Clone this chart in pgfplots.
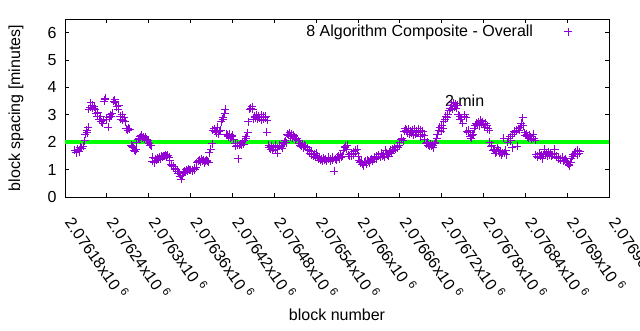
\documentclass[border=0pt]{standalone}
\usepackage{fontspec}
\setmainfont{Liberation Sans}
\usepackage{pgfplots}
\usepackage{pgfplotstable}
\pgfplotsset{compat=1.18}
\definecolor{gpviolet}{HTML}{9400D3}
\definecolor{gpgreen}{HTML}{00FF00}
% x = block number - 2076000
\pgfplotstableread{
x y
194 1.70
196 1.62
198 1.75
200 1.66
202 1.82
204 1.78
206 1.85
208 2.05
209 2.30
211 2.45
212 2.35
213 2.55
214 3.20
216 3.28
217 3.45
219 3.35
220 3.25
222 3.30
223 3.20
224 3.05
226 2.95
227 3.10
229 2.85
231 2.95
232 2.75
234 2.70
235 2.80
236 3.50
237 3.55
238 3.60
240 2.85
242 2.55
243 2.90
245 3.00
246 2.95
248 3.05
250 3.50
251 3.55
252 3.45
254 3.30
256 3.20
257 3.35
259 2.95
260 2.85
262 3.00
263 2.80
265 2.90
266 2.75
268 2.50
270 2.45
271 2.52
273 2.48
275 1.90
276 1.85
278 1.80
279 1.72
281 1.68
282 1.75
283 2.00
285 2.10
286 2.15
288 2.20
289 2.25
291 2.15
292 2.20
294 2.10
295 2.20
297 2.12
298 2.05
299 2.05
301 1.95
302 1.90
304 1.88
305 1.30
306 1.45
308 1.25
309 1.40
311 1.35
312 1.42
314 1.38
315 1.45
317 1.40
318 1.50
320 1.45
321 1.48
323 1.50
324 1.55
326 1.50
327 1.52
329 1.45
330 1.35
332 1.20
333 1.15
335 1.10
336 1.12
338 1.05
339 1.00
341 0.95
342 0.88
344 0.85
345 0.75
347 0.65
348 0.80
350 0.90
351 0.95
353 0.92
354 1.00
356 0.95
357 1.02
359 0.98
360 1.00
362 0.95
363 1.00
365 1.05
366 1.00
368 1.08
369 1.25
371 1.30
372 1.35
374 1.28
375 1.40
377 1.30
378 1.35
380 1.25
381 1.30
383 1.35
384 1.30
386 1.28
387 1.62
389 1.75
391 1.95
392 2.45
394 2.50
395 2.40
397 2.35
398 2.55
400 2.30
401 2.40
403 2.45
404 2.75
406 2.85
407 2.90
409 3.05
410 3.20
411 2.30
413 2.25
414 2.20
416 2.30
417 2.15
419 2.20
420 2.25
422 2.10
424 1.95
425 1.85
427 1.90
428 1.40
430 1.90
431 1.95
433 1.90
434 2.00
436 1.92
437 2.05
439 2.15
440 2.20
442 2.35
443 2.75
445 3.20
446 3.25
448 3.30
449 3.20
450 2.85
452 2.95
453 2.90
455 3.00
456 2.85
458 2.95
459 2.90
461 3.00
462 2.80
464 2.95
465 2.85
467 2.90
468 2.95
469 2.37
470 2.80
472 1.90
473 1.80
475 1.75
476 1.85
478 1.70
479 1.80
481 1.90
482 1.75
484 1.60
485 1.80
487 1.85
488 1.90
490 1.85
491 1.78
493 1.95
494 2.00
496 2.05
497 1.98
499 2.30
500 2.25
502 2.35
503 2.20
505 2.30
506 2.15
508 2.25
509 2.20
511 2.10
512 2.15
514 2.05
516 1.95
517 1.90
519 1.85
520 1.95
522 1.80
523 1.90
525 1.85
527 1.75
528 1.80
530 1.70
531 1.60
533 1.55
534 1.65
536 1.50
537 1.58
539 1.45
540 1.60
542 1.50
543 1.40
545 1.45
546 1.35
548 1.40
549 1.30
551 1.42
552 1.35
554 1.38
555 1.30
557 1.40
558 1.45
560 1.30
561 1.38
563 1.35
564 1.45
566 0.95
567 1.40
569 1.35
570 1.45
572 1.50
573 1.40
575 1.55
576 1.45
578 1.50
579 1.70
581 1.80
582 1.85
584 1.75
585 1.90
587 1.55
588 1.50
590 1.60
591 1.50
593 1.55
594 1.65
596 1.70
597 1.60
599 1.75
600 1.50
602 1.35
603 1.25
605 1.30
606 1.20
608 1.15
609 1.28
611 1.30
612 1.22
614 1.35
615 1.30
617 1.25
618 1.35
620 1.40
621 1.30
623 1.38
624 1.45
626 1.50
627 1.40
629 1.55
630 1.50
632 1.45
633 1.60
635 1.50
636 1.55
638 1.45
639 1.70
641 1.60
642 1.55
644 1.50
645 1.65
647 1.70
648 1.60
650 1.75
651 1.70
653 1.80
654 1.75
656 1.85
657 1.80
659 1.90
660 2.00
662 2.10
663 2.15
665 2.05
666 2.40
668 2.50
669 2.45
671 2.35
672 2.50
674 2.30
675 2.40
677 2.35
678 2.45
680 2.25
681 2.50
683 2.30
684 2.40
686 2.35
687 2.50
689 2.20
690 2.45
692 2.30
693 2.40
695 2.25
696 2.10
698 1.95
699 2.00
701 1.90
702 1.85
704 1.95
705 1.88
707 1.90
708 1.80
710 1.95
711 2.00
713 2.15
714 2.30
716 2.45
717 2.55
719 2.40
720 2.60
722 2.50
723 2.75
725 2.85
726 2.95
728 2.90
729 3.00
731 3.15
732 3.25
734 3.35
735 3.20
737 3.45
738 3.30
740 3.40
741 3.25
743 3.35
744 3.00
746 2.95
747 2.85
749 2.90
750 2.70
752 2.95
753 3.00
755 2.90
756 2.40
758 2.35
759 2.45
761 2.20
762 2.15
764 2.25
765 2.30
767 2.50
768 2.60
770 2.70
771 2.65
773 2.75
774 2.60
776 2.80
777 2.70
779 2.75
780 2.65
782 2.55
783 2.70
785 2.60
786 2.50
788 2.45
789 2.00
791 1.85
792 1.90
794 1.70
795 1.75
797 1.60
798 1.65
800 1.80
801 1.70
803 1.60
804 1.65
806 1.55
807 1.62
809 2.15
810 1.60
812 1.70
813 1.55
815 2.00
816 2.15
818 2.20
819 2.05
821 1.80
822 2.30
824 2.40
825 2.35
827 2.45
828 1.85
830 2.50
831 2.45
833 2.55
834 2.70
836 2.90
837 2.60
839 2.35
840 2.25
842 2.30
843 2.20
845 2.15
846 2.25
848 2.20
849 2.10
851 2.30
852 2.15
854 2.08
855 1.55
857 1.50
858 1.45
860 1.60
861 1.50
863 1.55
864 1.40
866 1.55
867 1.75
869 1.55
870 1.60
872 1.50
873 1.65
875 1.55
876 1.60
878 1.50
879 1.55
881 1.60
882 1.75
884 1.45
885 1.50
887 1.40
888 1.45
890 1.35
891 1.40
893 1.45
894 1.30
896 1.35
897 1.40
899 1.30
900 1.25
902 1.20
903 1.15
905 1.25
906 1.40
908 1.50
909 1.55
911 1.60
912 1.65
914 1.55
915 1.70
917 1.60
918 1.65
}\blocks
\begin{document}
\begin{tikzpicture}[font=\fontsize{16}{19}\selectfont]
\path[use as bounding box] (0,0) rectangle (640pt,330pt);
\begin{axis}[
  at={(65pt,133pt)}, anchor=south west,
  width=544pt, height=178pt, scale only axis,
  xmin=180, xmax=960, ymin=0, ymax=6.5,
  xtick={180,240,...,960},
  xticklabels={
    {2.07618x10 \textsuperscript{6}},{2.07624x10 \textsuperscript{6}},
    {2.0763x10 \textsuperscript{6}},{2.07636x10 \textsuperscript{6}},
    {2.07642x10 \textsuperscript{6}},{2.07648x10 \textsuperscript{6}},
    {2.07654x10 \textsuperscript{6}},{2.0766x10 \textsuperscript{6}},
    {2.07666x10 \textsuperscript{6}},{2.07672x10 \textsuperscript{6}},
    {2.07678x10 \textsuperscript{6}},{2.07684x10 \textsuperscript{6}},
    {2.0769x10 \textsuperscript{6}},{2.07696x10 \textsuperscript{6}}},
  ytick={0,1,2,3,4,5,6},
  /pgf/number format/assume math mode=true,
  tick align=inside, major tick length=4pt,
  every tick/.style={black, line width=0.8pt},
  axis line style={black, line width=0.8pt},
  xticklabel style={xshift=3pt, yshift=-19pt, rotate=-55, anchor=west},
  yticklabel style={xshift=-5pt},
  xlabel={block number}, ylabel={block spacing [minutes]},
  xlabel style={at={(axis description cs:0.5,-0.663)}, anchor=center},
  ylabel style={at={(axis description cs:-0.09,0.5)}, anchor=center, rotate=0},
  legend style={draw=none, fill=none, column sep=29pt, at={(axis description cs:0.938,0.99)}, anchor=north east, font=\fontsize{16}{19}\selectfont},
  legend plot pos=right,
  legend cell align=right,
]
\addplot[only marks, mark=+, mark size=4pt, gpviolet, line width=0.8pt] table[x=x, y=y] {\blocks};
\addlegendentry{8 Algorithm Composite - Overall}
\addplot[gpgreen, line width=4pt, forget plot] coordinates {(180,2) (960,2)};
\node at (axis cs:753,3.5) {2 min};
\end{axis}
\end{tikzpicture}
\end{document}
